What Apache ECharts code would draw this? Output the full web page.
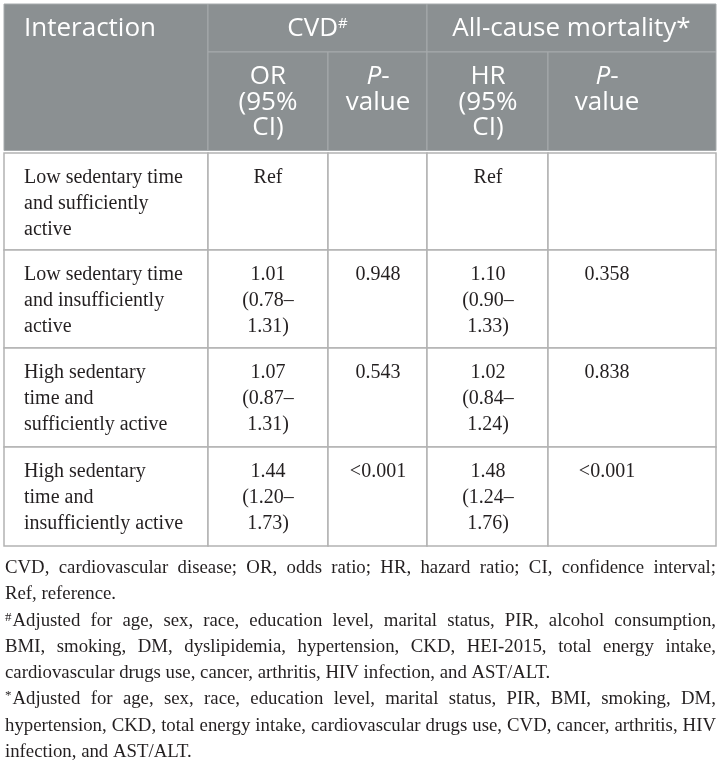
<!DOCTYPE html>
<html lang="en">
<head>
<meta charset="UTF-8">
<title>Interaction table</title>
<style>
    html, body {
        margin: 0;
        padding: 0;
        background: #fff;
    }
    #table {
        width: 721px;
        height: 765px;
    }
</style>
<script src="https://cdn.jsdelivr.net/npm/echarts@6/dist/echarts.min.js"></script>
</head>
<body>
<div id="table"></div>
<script>
    // table content
    var rowLabels = [
        'Low sedentary time\nand sufficiently\nactive',
        'Low sedentary time\nand insufficiently\nactive',
        'High sedentary\ntime and\nsufficiently active',
        'High sedentary\ntime and\ninsufficiently active'
    ];
    var cvdOR    = [null, 1.01, 1.07, 1.44];
    var cvdLow   = [null, 0.78, 0.87, 1.20];
    var cvdHigh  = [null, 1.31, 1.31, 1.73];
    var cvdP     = ['', '0.948', '0.543', '<0.001'];
    var mortHR   = [null, 1.10, 1.02, 1.48];
    var mortLow  = [null, 0.90, 0.84, 1.24];
    var mortHigh = [null, 1.33, 1.24, 1.76];
    var mortP    = ['', '0.358', '0.838', '<0.001'];

    var headTop = ['Interaction', 'CVD{s|#}', 'All-cause mortality*'];
    var headSub = ['OR\n(95%\nCI)', '{i|P}-\nvalue', 'HR\n(95%\nCI)', '{i|P}-\nvalue'];

    // footnotes, one array of lines per paragraph
    var notes = [
        ['CVD, cardiovascular disease; OR, odds ratio; HR, hazard ratio; CI, confidence interval;',
         'Ref, reference.'],
        ['#Adjusted for age, sex, race, education level, marital status, PIR, alcohol consumption,',
         'BMI, smoking, DM, dyslipidemia, hypertension, CKD, HEI-2015, total energy intake,',
         'cardiovascular drugs use, cancer, arthritis, HIV infection, and AST/ALT.'],
        ['*Adjusted for age, sex, race, education level, marital status, PIR, BMI, smoking, DM,',
         'hypertension, CKD, total energy intake, cardiovascular drugs use, CVD, cancer, arthritis, HIV',
         'infection, and AST/ALT.']
    ];

    // layout (grid units = px inside the table box)
    var colEdges = [0, 204, 324, 423, 544, 712];
    var colTextX = [20, 264, 374, 484, 603];
    var headEdges = [0, 48, 146.5];
    var bodyEdges = [149, 246, 344, 443, 542];

    var HEAD_BG = '#8b9092';
    var HEAD_LINE = '#a6aaac';
    var BODY_LINE = '#b3b3b3';
    var INK = '#231f20';
    var SANS = 'Open Sans';
    var SERIF = 'Liberation Serif';
    var HEAD_SIZE = 26;

    function fmtCI(est, lo, hi) {
        if (est == null) return 'Ref';
        return est.toFixed(2) + '\n(' + lo.toFixed(2) + '\u2013\n' + hi.toFixed(2) + ')';
    }

    var cells = [];
    cells.push({head: true, c: [0, 1], r: [headEdges[0], headEdges[2]], text: headTop[0], align: 'left', tx: colTextX[0]});
    cells.push({head: true, c: [1, 3], r: [headEdges[0], headEdges[1]], text: headTop[1], align: 'center'});
    cells.push({head: true, c: [3, 5], r: [headEdges[0], headEdges[1]], text: headTop[2], align: 'center'});
    headSub.forEach(function (t, i) {
        cells.push({head: true, c: [i + 1, i + 2], r: [headEdges[1], headEdges[2]], text: t, align: 'center', tx: colTextX[i + 1]});
    });
    rowLabels.forEach(function (label, i) {
        var vals = [
            label,
            fmtCI(cvdOR[i], cvdLow[i], cvdHigh[i]),
            cvdP[i],
            fmtCI(mortHR[i], mortLow[i], mortHigh[i]),
            mortP[i]
        ];
        vals.forEach(function (v, j) {
            cells.push({head: false, c: [j, j + 1], r: [bodyEdges[i], bodyEdges[i + 1]], text: v,
                align: j === 0 ? 'left' : 'center', tx: colTextX[j]});
        });
    });

    function renderCell(params, api) {
        var cell = cells[params.dataIndex];
        var p0 = api.coord([colEdges[cell.c[0]], cell.r[0]]);
        var p1 = api.coord([colEdges[cell.c[1]], cell.r[1]]);
        var tx = cell.tx != null ? api.coord([cell.tx, 0])[0] : (p0[0] + p1[0]) / 2;
        var h = cell.head;
        var fg = h ? '#fff' : INK;
        return {
            type: 'group',
            children: [{
                type: 'rect',
                shape: {x: p0[0], y: p0[1], width: p1[0] - p0[0], height: p1[1] - p0[1]},
                style: {fill: h ? HEAD_BG : '#fff', stroke: h ? HEAD_LINE : BODY_LINE, lineWidth: h ? 1 : 1.5}
            }, {
                type: 'text',
                x: tx,
                y: p0[1] + 12,
                style: {
                    text: cell.text,
                    fill: fg,
                    fontFamily: h ? SANS : SERIF,
                    fontSize: h ? HEAD_SIZE : 20,
                    lineHeight: h ? 25.5 : 26,
                    align: cell.align,
                    verticalAlign: 'top',
                    rich: {
                        i: {fontStyle: 'italic', fontFamily: SANS, fontSize: HEAD_SIZE, lineHeight: 25.5, fill: fg},
                        s: {fontFamily: SANS, fontSize: 15, lineHeight: 15, verticalAlign: 'top', fill: fg}
                    }
                }
            }]
        };
    }

    // justified footnotes: measure words, spread them over the line
    var NOTE_SIZE = 18.8;
    var SUP_SIZE = 13;
    var NOTE_LEFT = 5, NOTE_RIGHT = 716, NOTE_TOP = 568, NOTE_STEP = 26.3;
    var ctx = document.createElement('canvas').getContext('2d');
    function measure(s, size) {
        ctx.font = size + 'px "' + SERIF + '"';
        return ctx.measureText(s).width;
    }
    var noteEls = [];
    var lineNo = 0;
    notes.forEach(function (para) {
        para.forEach(function (line, li) {
            var words = line.split(' ');
            var parts = words.map(function (w, wi) {
                if (li === 0 && wi === 0 && (w[0] === '#' || w[0] === '*')) {
                    return {text: '{s|' + w[0] + '}' + w.slice(1),
                        w: measure(w[0], SUP_SIZE) + 1 + measure(w.slice(1), NOTE_SIZE)};
                }
                return {text: w, w: measure(w, NOTE_SIZE)};
            });
            var total = parts.reduce(function (a, p) { return a + p.w; }, 0);
            var last = li === para.length - 1;
            var gap = last ? measure(' ', NOTE_SIZE)
                : Math.max(2, (NOTE_RIGHT - NOTE_LEFT - total) / (parts.length - 1));
            var x = NOTE_LEFT;
            var y = NOTE_TOP + lineNo * NOTE_STEP;
            parts.forEach(function (p) {
                noteEls.push({
                    type: 'text',
                    x: x,
                    y: y,
                    silent: true,
                    style: {
                        text: p.text,
                        fill: INK,
                        fontFamily: SERIF,
                        fontSize: NOTE_SIZE,
                        lineHeight: 20,
                        verticalAlign: 'middle',
                        rich: {
                            s: {fontFamily: SERIF, fontSize: SUP_SIZE, lineHeight: 13, verticalAlign: 'top', fill: INK, padding: [0, 1, 0, 0]}
                        }
                    }
                });
                x += p.w + gap;
            });
            lineNo++;
        });
    });

    var chart = echarts.init(document.getElementById('table'));
    chart.setOption({
        animation: false,
        grid: {left: 4, top: 4, width: 712, height: 543},
        xAxis: {type: 'value', min: 0, max: 712, show: false},
        yAxis: {type: 'value', min: 0, max: 543, inverse: true, show: false},
        series: [{
            type: 'custom',
            renderItem: renderCell,
            clip: false,
            silent: true,
            data: cells.map(function (c) { return [colEdges[c.c[0]], c.r[0]]; })
        }],
        graphic: {elements: noteEls}
    });
</script>
</body>
</html>
